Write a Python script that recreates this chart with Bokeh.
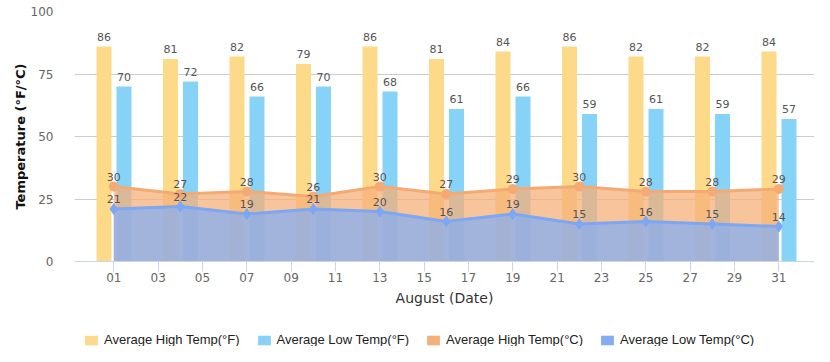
from bokeh.plotting import figure
from bokeh.layouts import column
from bokeh.models import Range1d, FixedTicker, ColumnDataSource, Legend, LegendItem
from bokeh.transform import dodge
from bokeh.core.properties import value
from bokeh.embed import file_html
from bokeh.resources import INLINE

# ---- data ----
days = [1, 4, 7, 10, 13, 16, 19, 22, 25, 28, 31]
high_f = [86, 81, 82, 79, 86, 81, 84, 86, 82, 82, 84]
low_f = [70, 72, 66, 70, 68, 61, 66, 59, 61, 59, 57]
high_c = [30, 27, 28, 26, 30, 27, 29, 30, 28, 28, 29]
low_c = [21, 22, 19, 21, 20, 16, 19, 15, 16, 15, 14]
series_names = ["Average High Temp(°F)", "Average Low Temp(°F)",
                "Average High Temp(°C)", "Average Low Temp(°C)"]
x_ticks = [1, 3, 5, 7, 9, 11, 13, 15, 17, 19, 21, 23, 25, 27, 29, 31]
x_tick_labels = ["01", "03", "05", "07", "09", "11", "13", "15",
                 "17", "19", "21", "23", "25", "27", "29", "31"]
y_ticks = [0, 25, 50, 75, 100]

# ---- style ----
YELLOW = "#fdd98a"
LBLUE = "#87d3f8"
ORANGE = "#f5b07a"
BLUE = "#85adf2"
BLUE_LINE = "#7ba7f4"
ORANGE_LINE = "#f4aa72"
LABEL_C = "#555555"
FONT = "DejaVu Sans"

src = ColumnDataSource(dict(
    day=days, high_f=high_f, low_f=low_f, high_c=high_c, low_c=low_c,
    hf_t=[str(v) for v in high_f], lf_t=[str(v) for v in low_f],
    hc_t=[str(v) for v in high_c], lc_t=[str(v) for v in low_c],
))

W = 814
H_MAIN = 324
H_LEG = 22
FRAME_LEFT = 74

p = figure(width=W, height=H_MAIN,
           x_range=Range1d(-0.773, 32.61), y_range=Range1d(0, 100),
           output_backend="svg", toolbar_location=None,
           min_border_left=FRAME_LEFT, min_border_right=0,
           min_border_top=11, min_border_bottom=H_MAIN - 261)
p.outline_line_color = None
p.background_fill_color = "white"
p.border_fill_color = "white"

OFF_L = -0.442
OFF_R = 0.460
BW = 0.677

p.vbar(x=dodge("day", OFF_L, range=p.x_range), top="high_f", width=BW,
       source=src, fill_color=YELLOW, line_color=None)
p.vbar(x=dodge("day", OFF_R, range=p.x_range), top="low_f", width=BW,
       source=src, fill_color=LBLUE, line_color=None)

p.varea(x="day", y1=0, y2="high_c", source=src, fill_color=ORANGE, fill_alpha=0.75)
p.line(x="day", y="high_c", source=src, line_color=ORANGE_LINE, line_width=3)
p.scatter(x="day", y="high_c", source=src, marker="circle", size=9,
          fill_color=ORANGE_LINE, line_color=ORANGE_LINE)

p.varea(x="day", y1=0, y2="low_c", source=src, fill_color=BLUE, fill_alpha=0.75)
p.line(x="day", y="low_c", source=src, line_color=BLUE_LINE, line_width=3)
p.scatter(x="day", y="low_c", source=src, marker="diamond", size=11,
          fill_color=BLUE_LINE, line_color=BLUE_LINE)

lbl_kw = dict(source=src, text_align="center", text_baseline="middle",
              y_offset=-10, text_font=value(FONT), text_font_size="11px",
              text_color=LABEL_C)
p.text(x=dodge("day", OFF_L, range=p.x_range), y="high_f", text="hf_t", **lbl_kw)
p.text(x=dodge("day", OFF_R, range=p.x_range), y="low_f", text="lf_t", **lbl_kw)
p.text(x="day", y="high_c", text="hc_t", **lbl_kw)
p.text(x="day", y="low_c", text="lc_t", **lbl_kw)

# ---- axes ----
p.xaxis.ticker = FixedTicker(ticks=x_ticks)
p.xaxis.major_label_overrides = dict(zip(x_ticks, x_tick_labels))
p.xaxis.axis_line_color = "#ccd6eb"
p.xaxis.major_tick_line_color = "#ccd6eb"
p.xaxis.major_tick_out = 10
p.xaxis.major_tick_in = 0
p.xaxis.minor_tick_line_color = None
p.xaxis.major_label_standoff = 1
p.xaxis.major_label_text_font = FONT
p.xaxis.major_label_text_font_size = "12px"
p.xaxis.major_label_text_color = "#666666"
p.xaxis.axis_label = "August (Date)"
p.xaxis.axis_label_text_font = FONT
p.xaxis.axis_label_text_font_size = "14px"
p.xaxis.axis_label_text_font_style = "normal"
p.xaxis.axis_label_text_color = "#333333"
p.xaxis.axis_label_standoff = 5

p.yaxis.ticker = FixedTicker(ticks=y_ticks)
p.yaxis.axis_line_color = None
p.yaxis.major_tick_line_color = None
p.yaxis.minor_tick_line_color = None
p.yaxis.major_label_standoff = 15
p.yaxis.major_label_text_font = FONT
p.yaxis.major_label_text_font_size = "12px"
p.yaxis.major_label_text_color = "#666666"
p.yaxis.axis_label = "Temperature (°F/°C)"
p.yaxis.axis_label_text_font = FONT
p.yaxis.axis_label_text_font_size = "13px"
p.yaxis.axis_label_text_font_style = "bold"
p.yaxis.axis_label_text_color = "#111111"
p.yaxis.axis_label_standoff = 0

p.xgrid.grid_line_color = None
p.ygrid.grid_line_color = "#cccccc"

# ---- legend strip (solid swatches) ----
lf = figure(width=W, height=H_LEG, x_range=Range1d(0, 1), y_range=Range1d(0, 1),
            output_backend="svg", toolbar_location=None,
            x_axis_location=None, y_axis_location=None,
            min_border_left=FRAME_LEFT, min_border_right=0,
            min_border_top=0, min_border_bottom=0)
lf.outline_line_color = None
lf.xgrid.grid_line_color = None
lf.ygrid.grid_line_color = None
lf.background_fill_color = "white"
lf.border_fill_color = "white"

swatch_colors = [YELLOW, LBLUE, ORANGE, BLUE]
items = []
for name, col in zip(series_names, swatch_colors):
    # NaN data: nothing is drawn in the strip, only the legend swatch shows
    r = lf.vbar(x=[float("nan")], top=[float("nan")], width=0.5,
                fill_color=col, line_color=None)
    items.append(LegendItem(label=name, renderers=[r]))

legend = Legend(items=items, orientation="horizontal",
                location=(83 - FRAME_LEFT, -1),
                glyph_width=16, glyph_height=12, label_standoff=5, spacing=16,
                padding=0, margin=0, border_line_color=None,
                background_fill_alpha=0, label_height=12,
                label_text_font="Liberation Sans", label_text_font_size="13px",
                label_text_color="#222222")
lf.add_layout(legend)

layout = column(p, lf, spacing=0)
open("out.html", "w").write(file_html(layout, INLINE))
